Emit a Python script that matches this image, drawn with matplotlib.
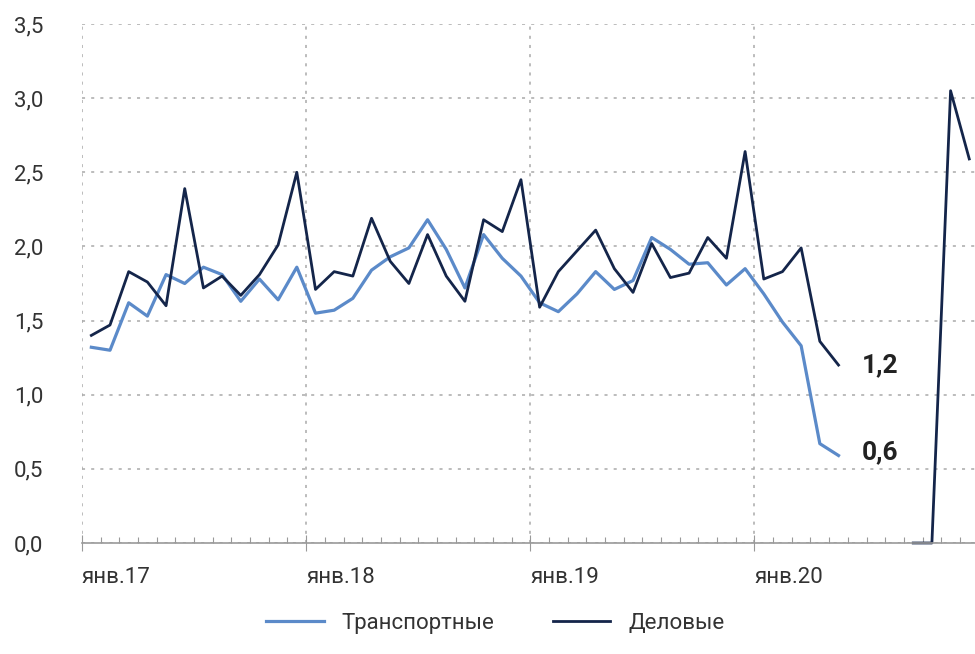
import numpy as np
import matplotlib.pyplot as plt
from matplotlib.ticker import FixedLocator, MultipleLocator, FuncFormatter

plt.rcParams['font.family'] = ['Roboto', 'DejaVu Sans']

# months Jan 2017 .. Dec 2020
months = np.arange(48)
year_labels = ['янв.17', 'янв.18', 'янв.19', 'янв.20']

nan = np.nan
transport = [1.32, 1.30, 1.62, 1.53, 1.81, 1.75, 1.86, 1.81, 1.63, 1.78, 1.64, 1.86,
             1.55, 1.57, 1.65, 1.84, 1.93, 1.99, 2.18, 1.98, 1.72, 2.08, 1.92, 1.80,
             1.62, 1.56, 1.68, 1.83, 1.71, 1.77, 2.06, 1.98, 1.88, 1.89, 1.74, 1.85,
             1.68, 1.49, 1.33, 0.67, 0.59, nan, nan, nan, nan, nan, nan, nan]
business = [1.40, 1.47, 1.83, 1.76, 1.60, 2.39, 1.72, 1.80, 1.67, 1.81, 2.01, 2.50,
            1.71, 1.83, 1.80, 2.19, 1.90, 1.75, 2.08, 1.80, 1.63, 2.18, 2.10, 2.45,
            1.59, 1.83, 1.97, 2.11, 1.85, 1.69, 2.02, 1.79, 1.82, 2.06, 1.92, 2.64,
            1.78, 1.83, 1.99, 1.36, 1.20, nan, nan, nan, 0.0, 0.0, 3.05, 2.59]

c_blue = '#5b8ac9'
c_dark = '#14254a'

fig = plt.figure(figsize=(9.75, 6.54), dpi=100)
ax = fig.add_axes([82 / 975, 1 - 543 / 654, 896.6 / 975, 519 / 654])

ax.plot(months, transport, color=c_blue, lw=2.3, label='Транспортные')
ax.plot(months, business, color=c_dark, lw=2.0, label='Деловые', clip_on=False)

ax.set_xlim(-0.5, 47.5)
ax.set_ylim(0, 3.5)

year_pos = [-0.5, 11.5, 23.5, 35.5]
ax.xaxis.set_major_locator(FixedLocator(year_pos))
ax.set_xticklabels(year_labels, ha='left')
ax.xaxis.set_minor_locator(FixedLocator(np.arange(-0.5, 48, 1)))
ax.tick_params(axis='x', which='major', direction='inout', length=12, width=0.8,
               color='#999999', labelsize=16, labelcolor='#333333', pad=11)
ax.tick_params(axis='x', which='minor', direction='in', length=4, width=0.8, color='#999999')

ax.yaxis.set_major_locator(MultipleLocator(0.5))
ax.yaxis.set_major_formatter(FuncFormatter(lambda v, p: f'{v:.1f}'.replace('.', ',')))
ax.tick_params(axis='y', length=0, labelsize=16, labelcolor='#333333', pad=28)

ax.grid(True, which='major', color='#aaaaaa', linestyle=(0, (2, 4)), lw=1.1)

for s in ['top', 'right', 'left']:
    ax.spines[s].set_visible(False)
ax.spines['bottom'].set_color('#999999')
ax.spines['bottom'].set_linewidth(1.2)

ax.text(40 + 1.25, business[40], '1,2', fontsize=19, fontweight='bold', color='#222222',
        va='center', ha='left')
ax.text(40 + 1.25, transport[40] + 0.02, '0,6', fontsize=19, fontweight='bold', color='#222222',
        va='center', ha='left')

fig.legend(loc='lower center', bbox_to_anchor=(0.508, 0.0), ncol=2, frameon=False,
           fontsize=16, handlelength=2.6, columnspacing=2.6, labelcolor='#333333')

fig.savefig('out.png', dpi=100)
